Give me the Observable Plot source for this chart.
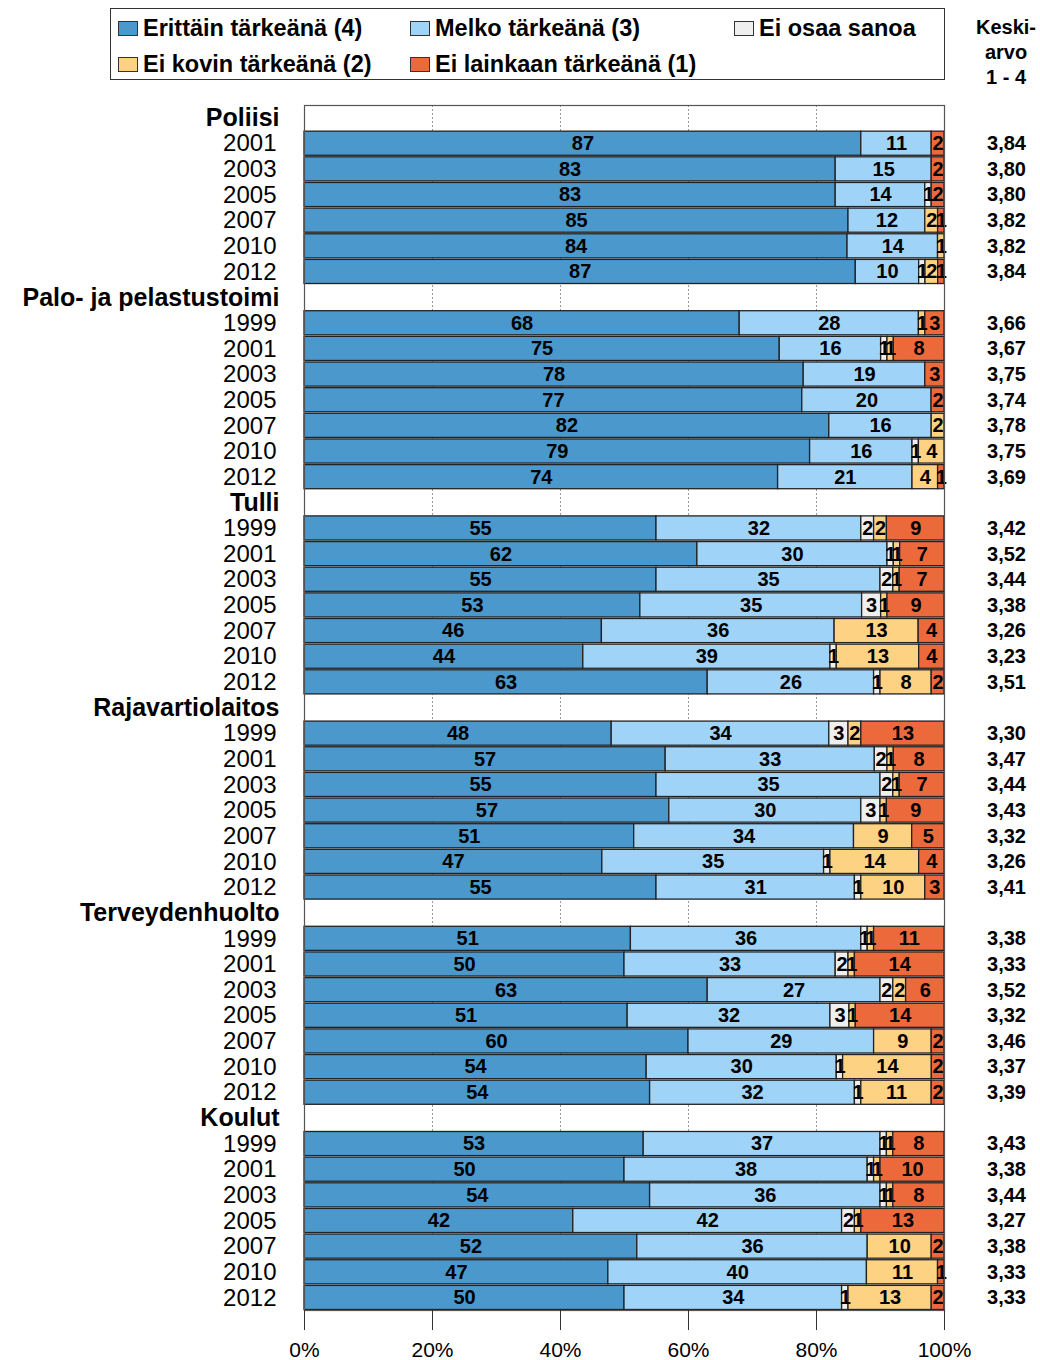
<!DOCTYPE html>
<html><head><meta charset="utf-8">
<script src="https://cdn.jsdelivr.net/npm/d3@7"></script>
<script src="https://cdn.jsdelivr.net/npm/@observablehq/plot@0.6"></script>
<style>
body{margin:0;background:#fff;font-family:"Liberation Sans",Arial,sans-serif;}
#wrap{position:relative;width:1040px;height:1360px;overflow:hidden;}
#legend{position:absolute;left:110px;top:8px;width:835px;height:72px;border:1px solid #333;box-sizing:border-box;}
.li{position:absolute;font-weight:bold;font-size:23.5px;line-height:26px;white-space:nowrap;color:#000;}
.sw{display:inline-block;width:18px;height:13px;border:1px solid #333;margin-right:5px;vertical-align:0px;}
#keski{position:absolute;left:961px;top:15px;width:90px;text-align:center;font-weight:bold;font-size:20px;line-height:25px;}
#chart{position:absolute;left:0;top:100px;}
</style></head>
<body>
<div id="wrap">
  <div id="legend"></div>
  <div id="keski">Keski-<br>arvo<br>1 - 4</div>
  <div id="chart"></div>
</div>
<script>
// ---- data ----
const categories = ["Erittäin tärkeänä (4)", "Melko tärkeänä (3)", "Ei osaa sanoa", "Ei kovin tärkeänä (2)", "Ei lainkaan tärkeänä (1)"];
const colors = ["#4b98cc", "#9fd3f7", "#efefef", "#fdd283", "#ec693c"];
const groups = ["Poliisi", "Palo- ja pelastustoimi", "Tulli", "Rajavartiolaitos", "Terveydenhuolto", "Koulut"];
const yearsPoliisi = [2001, 2003, 2005, 2007, 2010, 2012];
const yearsOther = [1999, 2001, 2003, 2005, 2007, 2010, 2012];
const yearsByGroup = [yearsPoliisi, yearsOther, yearsOther, yearsOther, yearsOther, yearsOther];

// values in row order (Poliisi 6 rows, then 7 rows per other group)
const erittain = [87,83,83,85,84,87, 68,75,78,77,82,79,74, 55,62,55,53,46,44,63, 48,57,55,57,51,47,55, 51,50,63,51,60,54,54, 53,50,54,42,52,47,50];
const melko    = [11,15,14,12,14,10, 28,16,19,20,16,16,21, 32,30,35,35,36,39,26, 34,33,35,30,34,35,31, 36,33,27,32,29,30,32, 37,38,36,42,36,40,34];
const eiOsaa   = [0,0,1,0,0,1,       0,1,0,0,0,1,0,       2,1,2,3,0,1,1,       3,2,2,3,0,1,1,       1,2,2,3,0,1,1,       1,1,1,2,0,0,1];
const eiKovin  = [0,0,0,2,1,2,       1,1,0,0,2,4,4,       2,1,1,1,13,13,8,     2,1,1,1,9,14,10,     1,1,2,1,9,14,11,     1,1,1,1,10,11,13];
const eiLainkaan=[2,2,2,1,0,1,       3,8,3,2,0,0,1,       9,7,7,9,4,4,2,       13,8,7,9,5,4,3,      11,14,6,14,2,2,2,    8,10,8,13,2,1,2];
const keskiarvo = ["3,84","3,80","3,80","3,82","3,82","3,84",
  "3,66","3,67","3,75","3,74","3,78","3,75","3,69",
  "3,42","3,52","3,44","3,38","3,26","3,23","3,51",
  "3,30","3,47","3,44","3,43","3,32","3,26","3,41",
  "3,38","3,33","3,52","3,32","3,46","3,37","3,39",
  "3,43","3,38","3,44","3,27","3,38","3,33","3,33"];
const xTicks = [0, 0.2, 0.4, 0.6, 0.8, 1];

// ---- legend ----
const legendPos = [[7,6],[299,6],[623,6],[7,42],[299,42]];
const legendOrder = [0,1,2,3,4];
const leg = document.getElementById("legend");
legendOrder.forEach((ci, i) => {
  const d = document.createElement("div");
  d.className = "li";
  d.style.left = legendPos[i][0] + "px";
  d.style.top = legendPos[i][1] + "px";
  d.innerHTML = `<span class="sw" style="background:${colors[ci]}"></span>${categories[ci]}`;
  leg.appendChild(d);
});

// ---- build rows ----
const series = [erittain, melko, eiOsaa, eiKovin, eiLainkaan];
const rowKeys = [], headerRows = [], yearRows = [], segments = [];
let r = 0;
groups.forEach((g, gi) => {
  rowKeys.push(g);
  headerRows.push({key: g, label: g});
  yearsByGroup[gi].forEach(yr => {
    const key = g + "|" + yr;
    rowKeys.push(key);
    yearRows.push({key, label: String(yr), avg: keskiarvo[r]});
    series.forEach((s, ci) => {
      if (s[r] > 0) segments.push({row: key, cat: categories[ci], value: s[r]});
    });
    r++;
  });
});

const stackOpts = {x: "value", y: "row", z: "cat", order: categories, offset: "normalize"};

const chart = Plot.plot({
  width: 1040,
  height: 1260,
  marginLeft: 304,
  marginRight: 96,
  marginTop: 5,
  marginBottom: 50,
  style: {fontFamily: '"Liberation Sans", Arial, sans-serif', background: "#fff"},
  x: {domain: [0, 1], axis: null},
  y: {domain: rowKeys, axis: null, round: false, paddingInner: 0.06, paddingOuter: 0.02},
  color: {domain: categories, range: colors},
  marks: [
    Plot.ruleX([0.2, 0.4, 0.6, 0.8], {stroke: "#999", strokeDasharray: "2,2", strokeWidth: 1}),
    Plot.barX(segments, Plot.stackX({...stackOpts, fill: "cat", stroke: "#222", strokeWidth: 1.3})),
    Plot.text(segments, Plot.stackX({...stackOpts, text: "value", fill: "#000", fontWeight: "bold", fontSize: 20})),
    Plot.frame({stroke: "#555", strokeWidth: 1.2}),
    Plot.axisX({ticks: xTicks, tickFormat: d => Math.round(d * 100) + "%", tickSize: 20, tickPadding: 12, fontSize: 21, stroke: "#333", fill: "#000", label: null}),
    Plot.text(headerRows, {x: 0, y: "key", text: "label", dx: -25, textAnchor: "end", fontWeight: "bold", fontSize: 25, fill: "#000"}),
    Plot.text(yearRows, {x: 0, y: "key", text: "label", dx: -28, textAnchor: "end", fontSize: 24, fill: "#000"}),
    Plot.text(yearRows, {x: 1, y: "key", text: "avg", dx: 62, textAnchor: "middle", fontWeight: "bold", fontSize: 20, fill: "#000"})
  ]
});
document.getElementById("chart").appendChild(chart);
</script>
</body></html>
